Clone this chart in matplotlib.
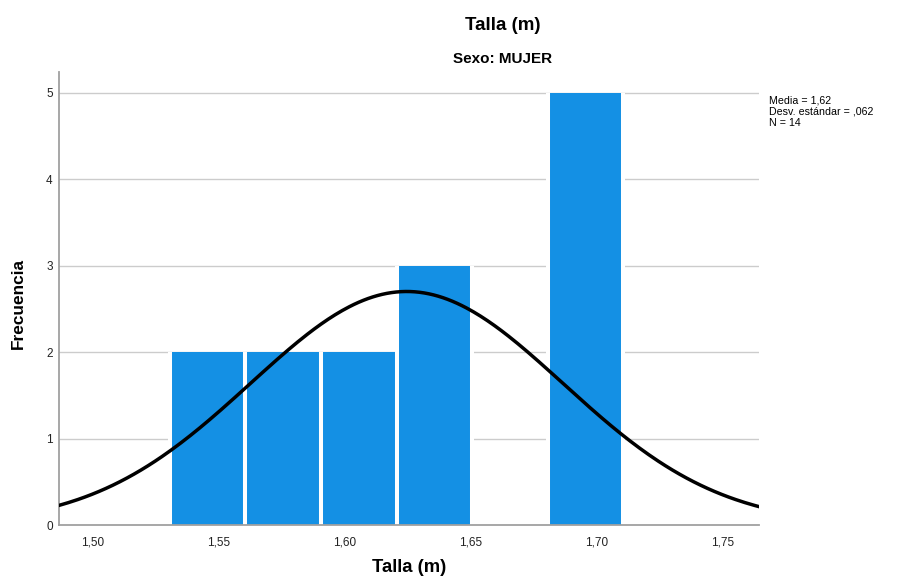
import numpy as np
import matplotlib.pyplot as plt

plt.rcParams['font.family'] = ['Liberation Sans', 'DejaVu Sans']

# histogram data (bin left edges, counts)
bin_left = [1.5305, 1.5605, 1.5905, 1.6205, 1.6505, 1.6805]
counts = [2, 2, 2, 3, 0, 5]
bin_width = 0.03
media = 1.6245
desv = 0.062
n = 14
xticks = [1.50, 1.55, 1.60, 1.65, 1.70, 1.75]
xticklabels = ['1,50', '1,55', '1,60', '1,65', '1,70', '1,75']
yticks = [0, 1, 2, 3, 4, 5]

fig = plt.figure(figsize=(9.01, 5.85), dpi=100)
ax = fig.add_axes([0.06548, 0.10256, 0.7769, 0.7744])

ax.bar(bin_left, counts, width=bin_width, align='edge', color='#1490e4',
       linewidth=0, zorder=2)
# white borders at the bin edges
edges = bin_left + [bin_left[-1] + bin_width]
for i, e in enumerate(edges):
    left = counts[i - 1] if i > 0 else 0
    right = counts[i] if i < len(counts) else 0
    top = max(left, right)
    if top > 0:
        ax.vlines(e, 0, top, color='white', linewidth=2.9, zorder=2.5)

# normal curve
x0, x1 = 1.4865, 1.7643
xs = np.linspace(x0, x1, 300)
ys = n * bin_width / (desv * np.sqrt(2 * np.pi)) * np.exp(-0.5 * ((xs - media) / desv) ** 2)
ax.plot(xs, ys, color='black', linewidth=2.5, zorder=3)

ax.set_xlim(x0, x1)
ax.set_ylim(0, 5.243)
ax.set_xticks(xticks)
ax.set_xticklabels(xticklabels)
ax.set_yticks(yticks)
ax.tick_params(length=0, labelsize=8.5, colors='#222222')
ax.tick_params(axis='x', pad=8.5)
ax.tick_params(axis='y', pad=4.5)
for y in yticks[1:]:
    ax.axhline(y, color='#cccccc', linewidth=1, zorder=1)

for s in ['top', 'right']:
    ax.spines[s].set_visible(False)
for s in ['left', 'bottom']:
    ax.spines[s].set_color('#a0a0a0')
    ax.spines[s].set_linewidth(1.3)

ax.set_xlabel('Talla (m)', fontsize=13.3, fontweight='bold')
ax.xaxis.set_label_coords(0.5, -0.1038)
ax.xaxis.label.set_va('baseline')
ax.set_ylabel('Frecuencia', fontsize=12.4, fontweight='bold')
ax.yaxis.set_label_coords(-0.0579, 0.49)
ax.yaxis.label.set_va('center')

fig.text(0.558, 0.949, 'Talla (m)', ha='center', va='baseline', fontsize=13.5, fontweight='bold')
fig.text(0.558, 0.892, 'Sexo: MUJER', ha='center', va='baseline', fontsize=11, fontweight='bold')
fig.text(0.8535, 0.836, 'Media = 1,62\nDesv. estándar = ,062\nN = 14', ha='left', va='top',
         fontsize=7.7, linespacing=1.1)

fig.savefig('out.png', dpi=100)
